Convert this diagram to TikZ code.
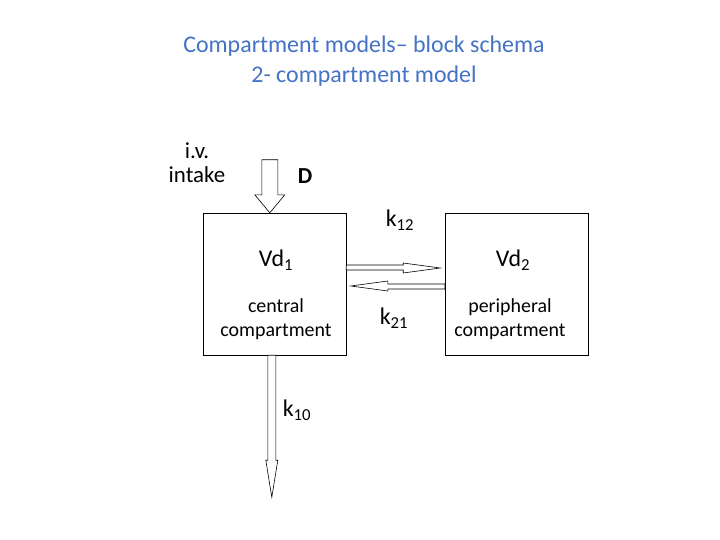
\documentclass[tikz,border=0pt]{standalone}
\usepackage{fontspec}
\setmainfont{Carlito}
\usetikzlibrary{positioning,calc}
\definecolor{titleblue}{RGB}{68,114,196}
\begin{document}
\begin{tikzpicture}[x=1bp,y=-1bp]
\tikzstyle{compartment}=[draw=black,minimum width=143bp,minimum height=142bp,inner sep=0pt]
\tikzstyle{hollow}=[draw=black,fill=white,line width=0.6pt]
\tikzstyle{title}=[text=titleblue,font=\fontsize{24}{28}\selectfont]
\tikzstyle{lbl}=[font=\fontsize{24}{28}\selectfont,inner sep=0pt]
\tikzstyle{small}=[font=\fontsize{20}{24}\selectfont,align=center,inner sep=0pt]
\useasboundingbox (0,0) rectangle (720,540);
\node[title] (t1) at (364,46) {Compartment models-- block schema};
\node[title] (t2) at (364,76) {2- compartment model};
\node[compartment] (C) at (274.5,284) {};
\node[compartment] (P) at (516.5,284) {};
\node[small,font=\fontsize{23}{24}\selectfont] (iv) at (197,163) {i.v.\\intake};
\node[lbl,font=\bfseries\fontsize{23}{22}\selectfont] (D) at (305,176) {D};
\node[lbl] (vd1) at (276,260) {Vd\textsubscript{1}};
\node[lbl] (vd2) at (513,260) {Vd\textsubscript{2}};
\node[small] (cc) at (276,319) {central\\compartment};
\node[small] (pc) at (510,319) {peripheral\\compartment};
\node[lbl] (k12) at (400,220) {k\textsubscript{12}};
\node[lbl] (k21) at (394,318) {k\textsubscript{21}};
\node[lbl] (k10) at (297,410) {k\textsubscript{10}};
% intake
\coordinate (in) at ($(C.north west)+(67,0)$);
\draw[hollow] (in) -- ++(-15,-18) -- ++(7,0) -- ++(0,-35) -- ++(16,0) -- ++(0,35) -- ++(7,0) -- cycle;
% k12 / k21
\draw[hollow] (C.east |- 0,265) -- ++(57,0) -- ++(0,-2) -- ++(37,5) -- ++(-37,5) -- ++(0,-3) -- ++(-57,0) -- cycle;
\draw[hollow] (P.west |- 0,289) -- ++(-57,0) -- ++(0,2) -- ++(-37,-5) -- ++(37,-5) -- ++(0,3) -- ++(57,0) -- cycle;
% elimination
\draw[hollow] ($(C.south west)+(65,0)$) -- ++(0,105) -- ++(-2,0) -- ++(6,37) -- ++(6,-37) -- ++(-2,0) -- ++(0,-105) -- cycle;
\end{tikzpicture}
\end{document}
